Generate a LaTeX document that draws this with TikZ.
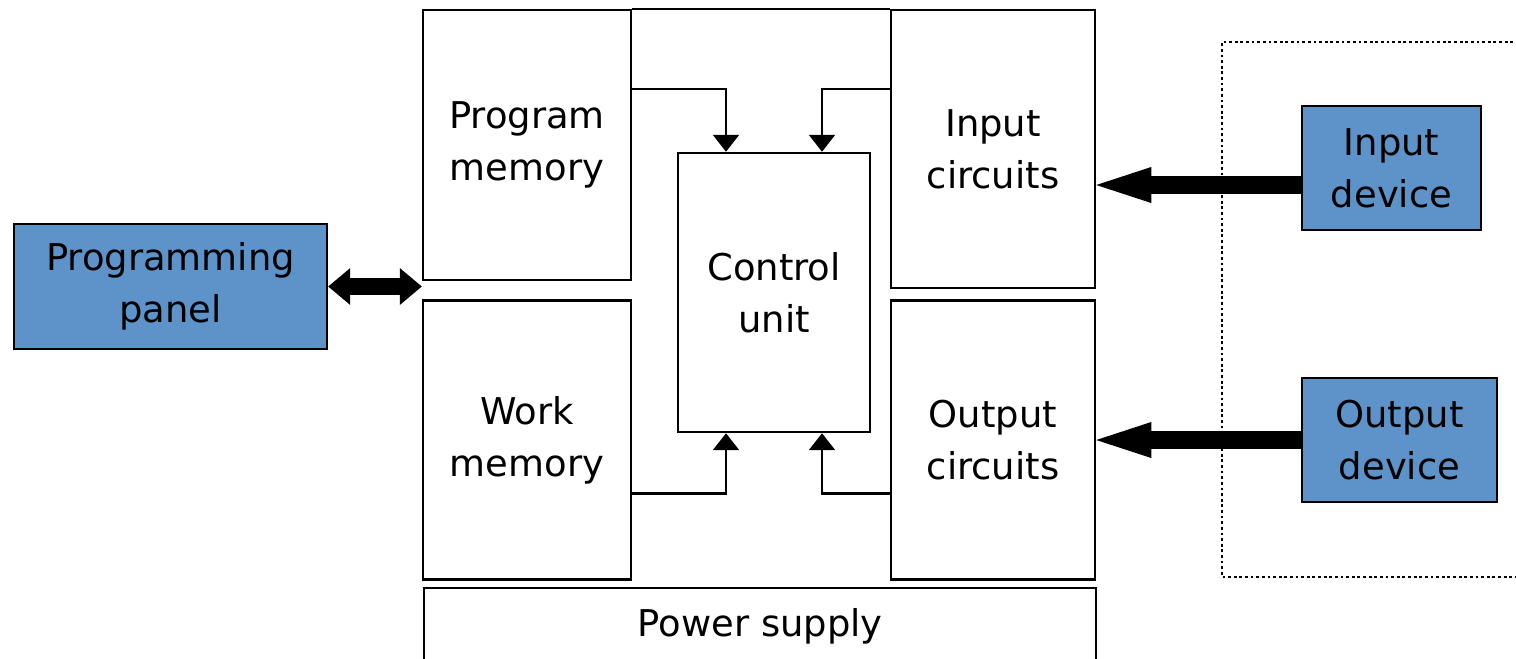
\documentclass[tikz,border=0pt]{standalone}
\usepackage{fontspec}
\setmainfont{DejaVu Sans}
\usetikzlibrary{arrows.meta,positioning,calc}
\definecolor{devblue}{HTML}{5E93C9}

\begin{document}
\begin{tikzpicture}[
        >=Stealth,
        unit/.style={
            draw=black,
            line width=1.4pt,
            align=center,
            inner sep=0pt,
            font=\fontsize{21}{29.5}\selectfont
        },
        device/.style={
            unit,
            fill=devblue
        },
        line/.style={draw=black, line width=1.4pt, -{Triangle[length=0.34cm,width=0.52cm]}},
        bigline/.style={draw=black, line width=0.36cm, -{Triangle[length=1.1cm,width=0.72cm,line width=0pt]}},
        dualline/.style={draw=black, line width=0.34cm, {Triangle[length=0.44cm,width=0.74cm,line width=0pt]}-{Triangle[length=0.44cm,width=0.74cm,line width=0pt]}}
    ]
        \useasboundingbox (0,0) rectangle (30.32,-13.16);

        % PLC blocks
        \node[unit, minimum width=4.16cm, minimum height=5.4cm] (prog) at (10.54,-2.9) {Program\\memory};
        \node[unit, minimum width=4.16cm, minimum height=5.58cm, below=0.36cm of prog] (work) {Work\\memory};
        \node[unit, minimum width=3.84cm, minimum height=5.58cm] (ctrl) at (15.48,-5.85) {Control\\unit};
        \node[unit, minimum width=4.08cm, minimum height=5.56cm] (inp) at (19.86,-2.98) {Input\\circuits};
        \node[unit, minimum width=4.08cm, minimum height=5.58cm, below=0.2cm of inp] (outp) {Output\\circuits};
        \node[unit, minimum width=13.44cm, minimum height=1.52cm, anchor=north west] (power) at (8.46,-11.74) {Power supply};

        % outside devices
        \node[device, minimum width=6.26cm, minimum height=2.5cm] (panel) at (3.41,-5.73) {Programming\\panel};
        \node[device, minimum width=3.58cm, minimum height=2.48cm] (indev) at (27.83,-3.36) {Input\\device};
        \node[device, minimum width=3.9cm, minimum height=2.48cm] (outdev) at (27.99,-8.8) {Output\\device};

        \draw[line width=1.6pt, dash pattern=on 1.6pt off 1.6pt] (30.6,-0.84) -| (24.44,-11.54) -- (30.6,-11.54);

        \coordinate (inarr) at ([yshift=-0.34cm]indev.west);

        \draw[line width=1.4pt] (prog.north east) -- (inp.north west);
        \draw[line] ([yshift=-1.6cm]prog.north east) -| ([xshift=-0.96cm]ctrl.north);
        \draw[line] ([yshift=-1.6cm]inp.north west) -| ([xshift=0.96cm]ctrl.north);
        \draw[line] ([yshift=1.74cm]work.south east) -| ([xshift=-0.96cm]ctrl.south);
        \draw[line] ([yshift=1.74cm]outp.south west) -| ([xshift=0.96cm]ctrl.south);
        \draw[bigline] (inarr) -- (inarr -| inp.east);
        \draw[bigline] (outdev.west) -- (outdev.west -| outp.east);
        \draw[dualline] (panel.east) -- (panel.east -| work.west);
    \end{tikzpicture}
\end{document}
